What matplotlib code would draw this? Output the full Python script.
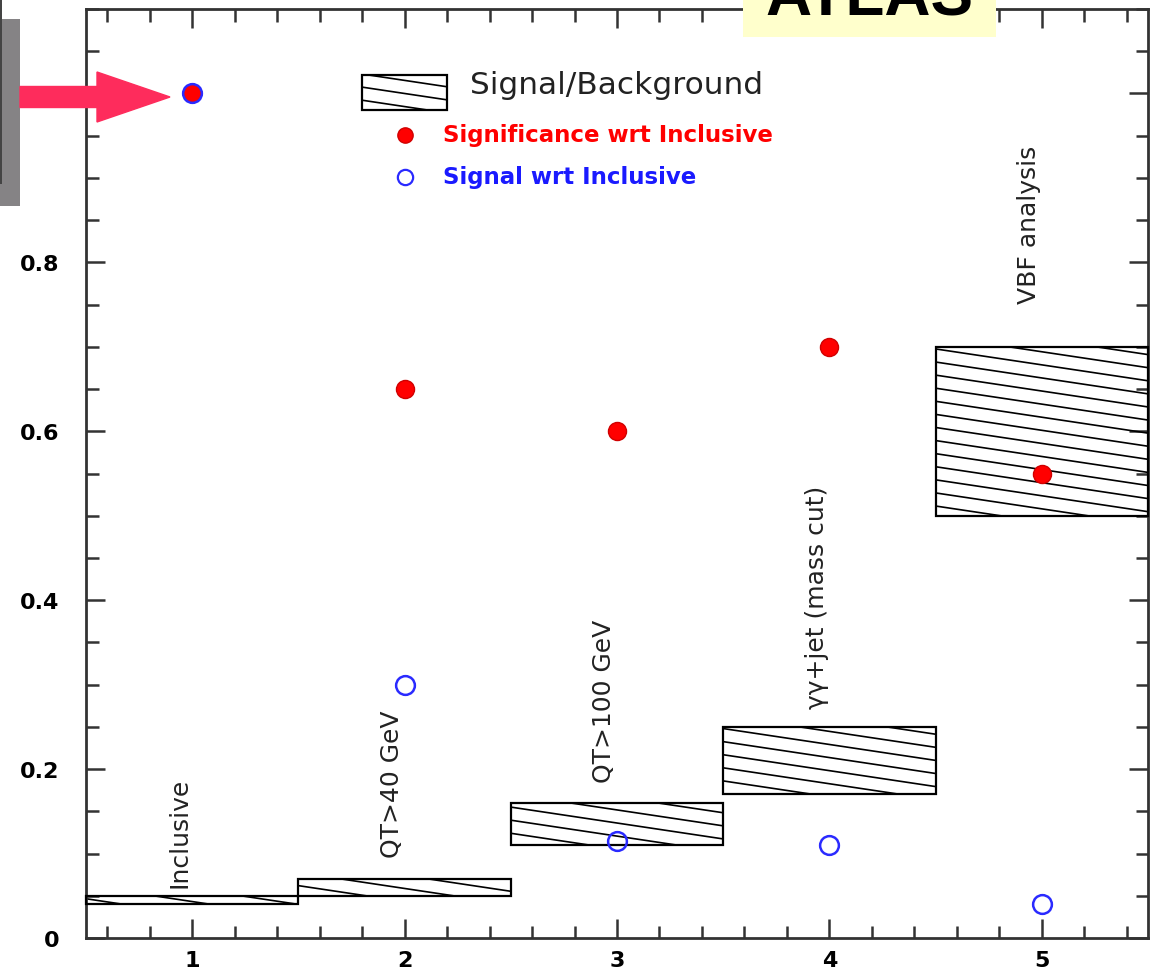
import matplotlib
matplotlib.use('Agg')
import matplotlib.pyplot as plt
from matplotlib.patches import Rectangle, FancyArrow
from matplotlib.ticker import MultipleLocator, FixedLocator
import numpy as np

# selections
sel_x = [1, 2, 3, 4, 5]
sel_names = ['Inclusive', 'QT>40 GeV', 'QT>100 GeV', u'\u03b3\u03b3+jet (mass cut)', 'VBF analysis']
# significance wrt inclusive (filled red)
signif = [1.0, 0.65, 0.60, 0.70, 0.55]
# signal wrt inclusive (open blue)
signal = [1.0, 0.30, 0.115, 0.11, 0.04]
# signal/background bands (low, high)
sb_low = [0.04, 0.05, 0.11, 0.17, 0.50]
sb_high = [0.05, 0.07, 0.16, 0.25, 0.70]
# label bottoms
label_y = [0.06, 0.096, 0.185, 0.272, 0.752]

yticks = [0, 0.2, 0.4, 0.6, 0.8, 1.0]
ytick_labels = ['0', '0.2', '0.4', '0.6', '0.8', '1']

fig = plt.figure(figsize=(11.54, 9.70), dpi=100)
ax = fig.add_axes([86 / 1154., 31 / 970., 1062 / 1154., 929 / 970.])
ax.set_xlim(0.5, 5.5)
ax.set_ylim(0, 1.1)

SLOPE = -0.0377   # hatch slope in data units
STEP = 0.0155     # hatch spacing


def hatch_box(x0, x1, y0, y1):
    rect = Rectangle((x0, y0), x1 - x0, y1 - y0, facecolor='none',
                     edgecolor='black', lw=1.6, zorder=3, clip_on=False)
    ax.add_patch(rect)
    w = x1 - x0
    start = np.floor(y0 / STEP) * STEP
    for c in np.arange(start, y1 - SLOPE * w + STEP, STEP):
        ln, = ax.plot([x0, x1], [c, c + SLOPE * w], color='black', lw=1.2, zorder=2)
        ln.set_clip_path(rect)


for i in range(len(sel_x)):
    hatch_box(sel_x[i] - 0.5, sel_x[i] + 0.5, sb_low[i], sb_high[i])

ax.plot(sel_x, signif, 'o', color='red', markersize=13, markeredgecolor='#d00000', zorder=5)
ax.plot(sel_x, signal, 'o', markerfacecolor='none', markeredgecolor='#2a2aff',
        markersize=13.5, markeredgewidth=1.8, zorder=6)

for i in range(len(sel_x)):
    ax.text(sel_x[i] - 0.06, label_y[i], sel_names[i], rotation=90, ha='center', va='bottom',
            fontsize=18, color='#222222')

# legend drawn by hand
hatch_box(1.8, 2.2, 0.981, 1.022)
ax.text(2.307, 1.011, 'Signal/Background', fontsize=22.5, va='center', ha='left', color='#222222')
ax.plot([2.0], [0.951], 'o', color='red', markersize=11, markeredgecolor='#d00000', clip_on=False)
ax.text(2.18, 0.951, 'Significance wrt Inclusive', fontsize=16.5, fontweight='bold',
        color='red', va='center', ha='left')
ax.plot([2.0], [0.9015], 'o', markerfacecolor='none', markeredgecolor='#2a2aff',
        markersize=11, markeredgewidth=1.6)
ax.text(2.18, 0.9015, 'Signal wrt Inclusive', fontsize=16.5, fontweight='bold',
        color='#1a1aff', va='center', ha='left')

# axes styling
for s in ax.spines.values():
    s.set_linewidth(2)
    s.set_color('#333333')
ax.xaxis.set_major_locator(MultipleLocator(1))
ax.xaxis.set_minor_locator(MultipleLocator(0.2))
ax.yaxis.set_major_locator(FixedLocator(yticks))
ax.yaxis.set_minor_locator(MultipleLocator(0.05))
ax.set_yticklabels(ytick_labels)
ax.tick_params(which='both', direction='in', top=True, right=True, color='#333333', width=1.8)
ax.tick_params(which='major', length=14)
ax.tick_params(which='minor', length=9)
ax.tick_params(axis='x', which='major', pad=9, labelsize=16)
ax.tick_params(axis='y', which='major', pad=19, labelsize=16)
for lab in ax.get_xticklabels() + ax.get_yticklabels():
    lab.set_fontweight('bold')

# grey box and arrow at the left edge
fig.patches.append(Rectangle((0, 1 - 207 / 970.), 20 / 1154., 187 / 970., transform=fig.transFigure,
                             facecolor='#858385', edgecolor='none', zorder=9))
fig.patches.append(Rectangle((0, 1 - 185 / 970.), 2 / 1154., 185 / 970., transform=fig.transFigure,
                             facecolor='#444444', edgecolor='none', zorder=9))
fig.patches.append(FancyArrow(20 / 1154., 1 - 98 / 970., 150 / 1154., 0, width=21 / 970.,
                              head_width=50 / 970., head_length=73 / 1154., length_includes_head=True,
                              transform=fig.transFigure, color='#fe2c5c', zorder=10))

# ATLAS label (cut off by the top edge, as in the original)
fig.patches.append(Rectangle((743 / 1154., 1 - 38 / 970.), 253 / 1154., 40 / 970., transform=fig.transFigure,
                             facecolor='#ffffcc', edgecolor='none', zorder=9))
fig.text(869 / 1154., 1 - 15 / 970., 'ATLAS', fontsize=46, fontweight='bold', ha='center',
         va='baseline', family='Liberation Sans', zorder=11)

fig.savefig('out.png', dpi=100)
